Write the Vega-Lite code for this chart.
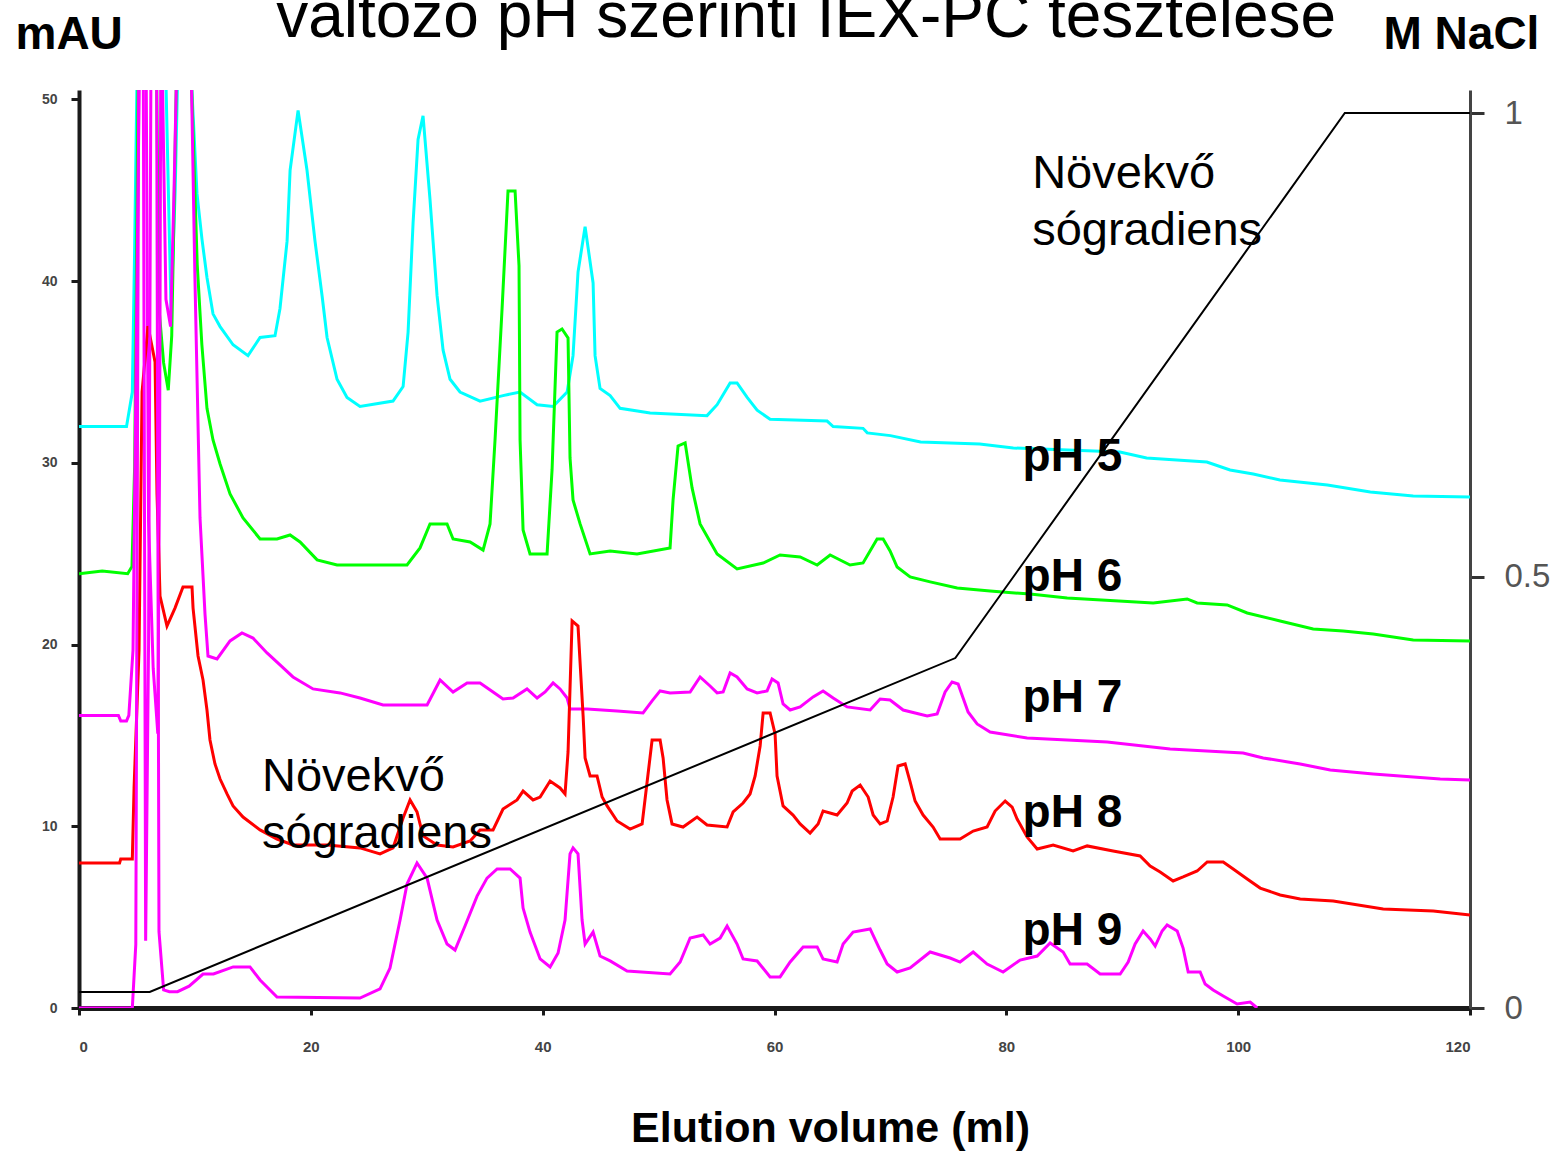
{
  "$schema": "https://vega.github.io/schema/vega-lite/v6.json",
  "autosize": {"type": "none"},
  "width": 1391,
  "height": 918,
  "padding": {"left": 79, "top": 90, "right": 87, "bottom": 143},
  "background": "white",
  "config": {"view": {"stroke": null}, "font": "Liberation Sans"},
  "datasets": {
    "traces": [
      {"ph": "pH 5", "ml": 0, "mAU": 32.0}, {"ph": "pH 5", "ml": 4.1, "mAU": 32.0}, {"ph": "pH 5", "ml": 4.6, "mAU": 33.9}, {"ph": "pH 5", "ml": 4.8, "mAU": 41.8}, {"ph": "pH 5", "ml": 5.0, "mAU": 51}, {"ph": "pH 5", "ml": 7.5, "mAU": 51}, {"ph": "pH 5", "ml": 7.94, "mAU": 38.4}, {"ph": "pH 5", "ml": 8.3, "mAU": 45}, {"ph": "pH 5", "ml": 8.5, "mAU": 51}, {"ph": "pH 5", "ml": 9.7, "mAU": 51}, {"ph": "pH 5", "ml": 10.18, "mAU": 44.8}, {"ph": "pH 5", "ml": 10.61, "mAU": 42.3}, {"ph": "pH 5", "ml": 11.04, "mAU": 40.2}, {"ph": "pH 5", "ml": 11.56, "mAU": 38.2}, {"ph": "pH 5", "ml": 12.17, "mAU": 37.5}, {"ph": "pH 5", "ml": 13.29, "mAU": 36.5}, {"ph": "pH 5", "ml": 14.58, "mAU": 35.9}, {"ph": "pH 5", "ml": 15.62, "mAU": 36.9}, {"ph": "pH 5", "ml": 16.91, "mAU": 37.0}, {"ph": "pH 5", "ml": 17.34, "mAU": 38.5}, {"ph": "pH 5", "ml": 17.95, "mAU": 42.2}, {"ph": "pH 5", "ml": 18.21, "mAU": 46.1}, {"ph": "pH 5", "ml": 18.9, "mAU": 49.4}, {"ph": "pH 5", "ml": 19.67, "mAU": 46.1}, {"ph": "pH 5", "ml": 20.36, "mAU": 42.2}, {"ph": "pH 5", "ml": 20.97, "mAU": 39.2}, {"ph": "pH 5", "ml": 21.4, "mAU": 36.9}, {"ph": "pH 5", "ml": 22.26, "mAU": 34.6}, {"ph": "pH 5", "ml": 23.12, "mAU": 33.6}, {"ph": "pH 5", "ml": 24.24, "mAU": 33.1}, {"ph": "pH 5", "ml": 27.09, "mAU": 33.4}, {"ph": "pH 5", "ml": 27.96, "mAU": 34.2}, {"ph": "pH 5", "ml": 28.39, "mAU": 37.2}, {"ph": "pH 5", "ml": 28.82, "mAU": 43.2}, {"ph": "pH 5", "ml": 29.25, "mAU": 47.8}, {"ph": "pH 5", "ml": 29.68, "mAU": 49.1}, {"ph": "pH 5", "ml": 30.28, "mAU": 44.5}, {"ph": "pH 5", "ml": 30.89, "mAU": 39.2}, {"ph": "pH 5", "ml": 31.41, "mAU": 36.2}, {"ph": "pH 5", "ml": 32.01, "mAU": 34.6}, {"ph": "pH 5", "ml": 32.87, "mAU": 33.9}, {"ph": "pH 5", "ml": 34.6, "mAU": 33.4}, {"ph": "pH 5", "ml": 36.58, "mAU": 33.7}, {"ph": "pH 5", "ml": 38.05, "mAU": 33.9}, {"ph": "pH 5", "ml": 39.52, "mAU": 33.2}, {"ph": "pH 5", "ml": 40.9, "mAU": 33.1}, {"ph": "pH 5", "ml": 42.11, "mAU": 33.9}, {"ph": "pH 5", "ml": 42.62, "mAU": 35.9}, {"ph": "pH 5", "ml": 43.05, "mAU": 40.5}, {"ph": "pH 5", "ml": 43.66, "mAU": 43.0}, {"ph": "pH 5", "ml": 44.35, "mAU": 39.9}, {"ph": "pH 5", "ml": 44.52, "mAU": 35.9}, {"ph": "pH 5", "ml": 44.95, "mAU": 34.1}, {"ph": "pH 5", "ml": 45.82, "mAU": 33.7}, {"ph": "pH 5", "ml": 46.68, "mAU": 33.0}, {"ph": "pH 5", "ml": 49.27, "mAU": 32.75}, {"ph": "pH 5", "ml": 54.18, "mAU": 32.6}, {"ph": "pH 5", "ml": 55.05, "mAU": 33.2}, {"ph": "pH 5", "ml": 56.17, "mAU": 34.4}, {"ph": "pH 5", "ml": 56.77, "mAU": 34.4}, {"ph": "pH 5", "ml": 57.64, "mAU": 33.6}, {"ph": "pH 5", "ml": 58.5, "mAU": 32.9}, {"ph": "pH 5", "ml": 59.62, "mAU": 32.4}, {"ph": "pH 5", "ml": 64.54, "mAU": 32.3}, {"ph": "pH 5", "ml": 65.06, "mAU": 32.0}, {"ph": "pH 5", "ml": 67.64, "mAU": 31.9}, {"ph": "pH 5", "ml": 68.0, "mAU": 31.65}, {"ph": "pH 5", "ml": 70, "mAU": 31.5}, {"ph": "pH 5", "ml": 72.6, "mAU": 31.15}, {"ph": "pH 5", "ml": 77.7, "mAU": 31.04}, {"ph": "pH 5", "ml": 80.6, "mAU": 30.82}, {"ph": "pH 5", "ml": 89.8, "mAU": 30.6}, {"ph": "pH 5", "ml": 92.1, "mAU": 30.27}, {"ph": "pH 5", "ml": 97.3, "mAU": 30.05}, {"ph": "pH 5", "ml": 99.3, "mAU": 29.61}, {"ph": "pH 5", "ml": 101.3, "mAU": 29.39}, {"ph": "pH 5", "ml": 103.6, "mAU": 29.06}, {"ph": "pH 5", "ml": 107.7, "mAU": 28.78}, {"ph": "pH 5", "ml": 111.4, "mAU": 28.4}, {"ph": "pH 5", "ml": 115.1, "mAU": 28.18}, {"ph": "pH 5", "ml": 120, "mAU": 28.12},

      {"ph": "pH 6", "ml": 0, "mAU": 23.9}, {"ph": "pH 6", "ml": 2, "mAU": 24.05}, {"ph": "pH 6", "ml": 4.2, "mAU": 23.9}, {"ph": "pH 6", "ml": 4.57, "mAU": 24.3}, {"ph": "pH 6", "ml": 4.8, "mAU": 29.8}, {"ph": "pH 6", "ml": 5.1, "mAU": 51}, {"ph": "pH 6", "ml": 6.7, "mAU": 51}, {"ph": "pH 6", "ml": 6.9, "mAU": 38.5}, {"ph": "pH 6", "ml": 7.3, "mAU": 35.5}, {"ph": "pH 6", "ml": 7.7, "mAU": 34.0}, {"ph": "pH 6", "ml": 8.0, "mAU": 37.0}, {"ph": "pH 6", "ml": 8.4, "mAU": 51}, {"ph": "pH 6", "ml": 9.7, "mAU": 51}, {"ph": "pH 6", "ml": 10.2, "mAU": 40.9}, {"ph": "pH 6", "ml": 10.6, "mAU": 36.5}, {"ph": "pH 6", "ml": 11.04, "mAU": 33.0}, {"ph": "pH 6", "ml": 11.56, "mAU": 31.26}, {"ph": "pH 6", "ml": 12.17, "mAU": 29.94}, {"ph": "pH 6", "ml": 13.03, "mAU": 28.29}, {"ph": "pH 6", "ml": 14.15, "mAU": 26.97}, {"ph": "pH 6", "ml": 15.62, "mAU": 25.81}, {"ph": "pH 6", "ml": 17.08, "mAU": 25.81}, {"ph": "pH 6", "ml": 18.21, "mAU": 26.03}, {"ph": "pH 6", "ml": 19.07, "mAU": 25.65}, {"ph": "pH 6", "ml": 20.54, "mAU": 24.66}, {"ph": "pH 6", "ml": 22.26, "mAU": 24.38}, {"ph": "pH 6", "ml": 28.3, "mAU": 24.38}, {"ph": "pH 6", "ml": 29.42, "mAU": 25.32}, {"ph": "pH 6", "ml": 30.28, "mAU": 26.64}, {"ph": "pH 6", "ml": 31.75, "mAU": 26.64}, {"ph": "pH 6", "ml": 32.27, "mAU": 25.81}, {"ph": "pH 6", "ml": 33.74, "mAU": 25.65}, {"ph": "pH 6", "ml": 34.86, "mAU": 25.2}, {"ph": "pH 6", "ml": 35.46, "mAU": 26.64}, {"ph": "pH 6", "ml": 35.89, "mAU": 31.26}, {"ph": "pH 6", "ml": 36.5, "mAU": 38.52}, {"ph": "pH 6", "ml": 37.01, "mAU": 44.96}, {"ph": "pH 6", "ml": 37.62, "mAU": 44.96}, {"ph": "pH 6", "ml": 37.96, "mAU": 40.84}, {"ph": "pH 6", "ml": 38.05, "mAU": 31.26}, {"ph": "pH 6", "ml": 38.31, "mAU": 26.31}, {"ph": "pH 6", "ml": 38.91, "mAU": 24.99}, {"ph": "pH 6", "ml": 40.38, "mAU": 24.99}, {"ph": "pH 6", "ml": 40.81, "mAU": 29.61}, {"ph": "pH 6", "ml": 41.24, "mAU": 37.2}, {"ph": "pH 6", "ml": 41.67, "mAU": 37.37}, {"ph": "pH 6", "ml": 42.19, "mAU": 36.87}, {"ph": "pH 6", "ml": 42.36, "mAU": 30.27}, {"ph": "pH 6", "ml": 42.62, "mAU": 27.96}, {"ph": "pH 6", "ml": 43.23, "mAU": 26.64}, {"ph": "pH 6", "ml": 44.09, "mAU": 24.99}, {"ph": "pH 6", "ml": 45.82, "mAU": 25.15}, {"ph": "pH 6", "ml": 48.14, "mAU": 24.99}, {"ph": "pH 6", "ml": 50.99, "mAU": 25.32}, {"ph": "pH 6", "ml": 51.25, "mAU": 27.96}, {"ph": "pH 6", "ml": 51.68, "mAU": 30.93}, {"ph": "pH 6", "ml": 52.29, "mAU": 31.1}, {"ph": "pH 6", "ml": 52.89, "mAU": 28.62}, {"ph": "pH 6", "ml": 53.58, "mAU": 26.64}, {"ph": "pH 6", "ml": 55.05, "mAU": 24.99}, {"ph": "pH 6", "ml": 56.77, "mAU": 24.16}, {"ph": "pH 6", "ml": 59.02, "mAU": 24.49}, {"ph": "pH 6", "ml": 60.48, "mAU": 24.93}, {"ph": "pH 6", "ml": 62.21, "mAU": 24.82}, {"ph": "pH 6", "ml": 63.68, "mAU": 24.38}, {"ph": "pH 6", "ml": 64.8, "mAU": 24.93}, {"ph": "pH 6", "ml": 66.52, "mAU": 24.38}, {"ph": "pH 6", "ml": 67.64, "mAU": 24.49}, {"ph": "pH 6", "ml": 68.85, "mAU": 25.81}, {"ph": "pH 6", "ml": 69.37, "mAU": 25.81}, {"ph": "pH 6", "ml": 69.97, "mAU": 25.15}, {"ph": "pH 6", "ml": 70.58, "mAU": 24.27}, {"ph": "pH 6", "ml": 71.7, "mAU": 23.72}, {"ph": "pH 6", "ml": 73.43, "mAU": 23.45}, {"ph": "pH 6", "ml": 75.76, "mAU": 23.11}, {"ph": "pH 6", "ml": 78.6, "mAU": 22.95}, {"ph": "pH 6", "ml": 82.05, "mAU": 22.78}, {"ph": "pH 6", "ml": 85.25, "mAU": 22.56}, {"ph": "pH 6", "ml": 92.67, "mAU": 22.29}, {"ph": "pH 6", "ml": 95.6, "mAU": 22.51}, {"ph": "pH 6", "ml": 96.46, "mAU": 22.29}, {"ph": "pH 6", "ml": 99.05, "mAU": 22.18}, {"ph": "pH 6", "ml": 100.78, "mAU": 21.74}, {"ph": "pH 6", "ml": 103.62, "mAU": 21.3}, {"ph": "pH 6", "ml": 106.47, "mAU": 20.86}, {"ph": "pH 6", "ml": 109.06, "mAU": 20.75}, {"ph": "pH 6", "ml": 111.65, "mAU": 20.58}, {"ph": "pH 6", "ml": 115.1, "mAU": 20.25}, {"ph": "pH 6", "ml": 120, "mAU": 20.2},

      {"ph": "pH 7", "ml": 0, "mAU": 16.1}, {"ph": "pH 7", "ml": 3.4, "mAU": 16.1}, {"ph": "pH 7", "ml": 3.6, "mAU": 15.8}, {"ph": "pH 7", "ml": 4.1, "mAU": 15.8}, {"ph": "pH 7", "ml": 4.3, "mAU": 16.1}, {"ph": "pH 7", "ml": 4.66, "mAU": 19.7}, {"ph": "pH 7", "ml": 5.0, "mAU": 40}, {"ph": "pH 7", "ml": 5.2, "mAU": 51}, {"ph": "pH 7", "ml": 5.8, "mAU": 51}, {"ph": "pH 7", "ml": 6.0, "mAU": 26.8}, {"ph": "pH 7", "ml": 6.4, "mAU": 18.7}, {"ph": "pH 7", "ml": 6.8, "mAU": 15.1}, {"ph": "pH 7", "ml": 6.95, "mAU": 30}, {"ph": "pH 7", "ml": 7.05, "mAU": 51}, {"ph": "pH 7", "ml": 7.2, "mAU": 51}, {"ph": "pH 7", "ml": 7.5, "mAU": 39}, {"ph": "pH 7", "ml": 7.9, "mAU": 37.5}, {"ph": "pH 7", "ml": 8.2, "mAU": 45}, {"ph": "pH 7", "ml": 8.4, "mAU": 51}, {"ph": "pH 7", "ml": 9.7, "mAU": 51}, {"ph": "pH 7", "ml": 10.0, "mAU": 40.2}, {"ph": "pH 7", "ml": 10.44, "mAU": 26.97}, {"ph": "pH 7", "ml": 10.87, "mAU": 21.68}, {"ph": "pH 7", "ml": 11.13, "mAU": 19.37}, {"ph": "pH 7", "ml": 11.91, "mAU": 19.21}, {"ph": "pH 7", "ml": 13.03, "mAU": 20.2}, {"ph": "pH 7", "ml": 14.06, "mAU": 20.64}, {"ph": "pH 7", "ml": 15.01, "mAU": 20.36}, {"ph": "pH 7", "ml": 16.22, "mAU": 19.54}, {"ph": "pH 7", "ml": 17.34, "mAU": 18.88}, {"ph": "pH 7", "ml": 18.46, "mAU": 18.22}, {"ph": "pH 7", "ml": 20.19, "mAU": 17.56}, {"ph": "pH 7", "ml": 22.52, "mAU": 17.34}, {"ph": "pH 7", "ml": 24.24, "mAU": 17.06}, {"ph": "pH 7", "ml": 26.23, "mAU": 16.68}, {"ph": "pH 7", "ml": 30.03, "mAU": 16.68}, {"ph": "pH 7", "ml": 31.15, "mAU": 18.05}, {"ph": "pH 7", "ml": 32.27, "mAU": 17.39}, {"ph": "pH 7", "ml": 33.48, "mAU": 17.89}, {"ph": "pH 7", "ml": 34.6, "mAU": 17.89}, {"ph": "pH 7", "ml": 35.72, "mAU": 17.39}, {"ph": "pH 7", "ml": 36.58, "mAU": 17.01}, {"ph": "pH 7", "ml": 37.45, "mAU": 17.06}, {"ph": "pH 7", "ml": 38.65, "mAU": 17.56}, {"ph": "pH 7", "ml": 39.52, "mAU": 17.06}, {"ph": "pH 7", "ml": 40.21, "mAU": 17.39}, {"ph": "pH 7", "ml": 40.9, "mAU": 17.89}, {"ph": "pH 7", "ml": 41.5, "mAU": 17.56}, {"ph": "pH 7", "ml": 42.11, "mAU": 17.06}, {"ph": "pH 7", "ml": 42.36, "mAU": 16.46}, {"ph": "pH 7", "ml": 43.83, "mAU": 16.46}, {"ph": "pH 7", "ml": 46.42, "mAU": 16.35}, {"ph": "pH 7", "ml": 48.66, "mAU": 16.24}, {"ph": "pH 7", "ml": 49.44, "mAU": 16.9}, {"ph": "pH 7", "ml": 50.13, "mAU": 17.45}, {"ph": "pH 7", "ml": 50.99, "mAU": 17.34}, {"ph": "pH 7", "ml": 52.72, "mAU": 17.39}, {"ph": "pH 7", "ml": 53.58, "mAU": 18.22}, {"ph": "pH 7", "ml": 54.44, "mAU": 17.72}, {"ph": "pH 7", "ml": 55.05, "mAU": 17.34}, {"ph": "pH 7", "ml": 55.57, "mAU": 17.39}, {"ph": "pH 7", "ml": 56.17, "mAU": 18.44}, {"ph": "pH 7", "ml": 56.77, "mAU": 18.22}, {"ph": "pH 7", "ml": 57.64, "mAU": 17.56}, {"ph": "pH 7", "ml": 58.5, "mAU": 17.34}, {"ph": "pH 7", "ml": 59.36, "mAU": 17.45}, {"ph": "pH 7", "ml": 59.79, "mAU": 18.11}, {"ph": "pH 7", "ml": 60.31, "mAU": 17.89}, {"ph": "pH 7", "ml": 60.74, "mAU": 16.73}, {"ph": "pH 7", "ml": 61.35, "mAU": 16.4}, {"ph": "pH 7", "ml": 62.21, "mAU": 16.57}, {"ph": "pH 7", "ml": 63.33, "mAU": 17.12}, {"ph": "pH 7", "ml": 64.19, "mAU": 17.45}, {"ph": "pH 7", "ml": 65.06, "mAU": 17.06}, {"ph": "pH 7", "ml": 66.26, "mAU": 16.57}, {"ph": "pH 7", "ml": 68.25, "mAU": 16.4}, {"ph": "pH 7", "ml": 69.11, "mAU": 17.0}, {"ph": "pH 7", "ml": 69.97, "mAU": 16.95}, {"ph": "pH 7", "ml": 71.1, "mAU": 16.4}, {"ph": "pH 7", "ml": 73.17, "mAU": 16.07}, {"ph": "pH 7", "ml": 74.03, "mAU": 16.18}, {"ph": "pH 7", "ml": 74.72, "mAU": 17.39}, {"ph": "pH 7", "ml": 75.32, "mAU": 17.94}, {"ph": "pH 7", "ml": 75.84, "mAU": 17.83}, {"ph": "pH 7", "ml": 76.27, "mAU": 17.06}, {"ph": "pH 7", "ml": 76.7, "mAU": 16.29}, {"ph": "pH 7", "ml": 77.48, "mAU": 15.63}, {"ph": "pH 7", "ml": 78.6, "mAU": 15.19}, {"ph": "pH 7", "ml": 81.79, "mAU": 14.86}, {"ph": "pH 7", "ml": 88.7, "mAU": 14.64}, {"ph": "pH 7", "ml": 94.13, "mAU": 14.25}, {"ph": "pH 7", "ml": 100.43, "mAU": 14.03}, {"ph": "pH 7", "ml": 102.16, "mAU": 13.76}, {"ph": "pH 7", "ml": 105.35, "mAU": 13.43}, {"ph": "pH 7", "ml": 107.94, "mAU": 13.1}, {"ph": "pH 7", "ml": 111.65, "mAU": 12.88}, {"ph": "pH 7", "ml": 117.43, "mAU": 12.6}, {"ph": "pH 7", "ml": 120, "mAU": 12.55},

      {"ph": "pH 8", "ml": 0, "mAU": 7.98}, {"ph": "pH 8", "ml": 3.5, "mAU": 7.98}, {"ph": "pH 8", "ml": 3.6, "mAU": 8.2}, {"ph": "pH 8", "ml": 4.6, "mAU": 8.2}, {"ph": "pH 8", "ml": 4.75, "mAU": 12.1}, {"ph": "pH 8", "ml": 5.18, "mAU": 19.7}, {"ph": "pH 8", "ml": 5.44, "mAU": 33.9}, {"ph": "pH 8", "ml": 5.95, "mAU": 37.53}, {"ph": "pH 8", "ml": 6.56, "mAU": 35.55}, {"ph": "pH 8", "ml": 6.73, "mAU": 28.29}, {"ph": "pH 8", "ml": 6.99, "mAU": 22.67}, {"ph": "pH 8", "ml": 7.59, "mAU": 21.02}, {"ph": "pH 8", "ml": 8.28, "mAU": 22.01}, {"ph": "pH 8", "ml": 8.97, "mAU": 23.17}, {"ph": "pH 8", "ml": 9.75, "mAU": 23.17}, {"ph": "pH 8", "ml": 9.84, "mAU": 22.01}, {"ph": "pH 8", "ml": 10.27, "mAU": 19.37}, {"ph": "pH 8", "ml": 10.7, "mAU": 18.05}, {"ph": "pH 8", "ml": 11.04, "mAU": 16.4}, {"ph": "pH 8", "ml": 11.3, "mAU": 14.75}, {"ph": "pH 8", "ml": 11.73, "mAU": 13.43}, {"ph": "pH 8", "ml": 12.17, "mAU": 12.6}, {"ph": "pH 8", "ml": 12.77, "mAU": 11.78}, {"ph": "pH 8", "ml": 13.29, "mAU": 11.12}, {"ph": "pH 8", "ml": 14.15, "mAU": 10.51}, {"ph": "pH 8", "ml": 15.62, "mAU": 9.8}, {"ph": "pH 8", "ml": 17.08, "mAU": 9.3}, {"ph": "pH 8", "ml": 18.46, "mAU": 8.97}, {"ph": "pH 8", "ml": 21.4, "mAU": 8.97}, {"ph": "pH 8", "ml": 24.24, "mAU": 8.81}, {"ph": "pH 8", "ml": 25.97, "mAU": 8.48}, {"ph": "pH 8", "ml": 27.09, "mAU": 8.81}, {"ph": "pH 8", "ml": 27.96, "mAU": 10.46}, {"ph": "pH 8", "ml": 28.56, "mAU": 11.45}, {"ph": "pH 8", "ml": 29.16, "mAU": 10.79}, {"ph": "pH 8", "ml": 29.68, "mAU": 9.47}, {"ph": "pH 8", "ml": 30.89, "mAU": 8.97}, {"ph": "pH 8", "ml": 32.27, "mAU": 8.86}, {"ph": "pH 8", "ml": 33.74, "mAU": 9.19}, {"ph": "pH 8", "ml": 34.6, "mAU": 9.8}, {"ph": "pH 8", "ml": 35.72, "mAU": 9.8}, {"ph": "pH 8", "ml": 36.58, "mAU": 10.95}, {"ph": "pH 8", "ml": 37.79, "mAU": 11.45}, {"ph": "pH 8", "ml": 38.31, "mAU": 11.94}, {"ph": "pH 8", "ml": 39.17, "mAU": 11.45}, {"ph": "pH 8", "ml": 39.78, "mAU": 11.61}, {"ph": "pH 8", "ml": 40.64, "mAU": 12.49}, {"ph": "pH 8", "ml": 41.5, "mAU": 12.11}, {"ph": "pH 8", "ml": 41.93, "mAU": 11.78}, {"ph": "pH 8", "ml": 42.19, "mAU": 14.09}, {"ph": "pH 8", "ml": 42.54, "mAU": 21.3}, {"ph": "pH 8", "ml": 43.05, "mAU": 21.02}, {"ph": "pH 8", "ml": 43.49, "mAU": 16.07}, {"ph": "pH 8", "ml": 43.66, "mAU": 13.76}, {"ph": "pH 8", "ml": 44.09, "mAU": 12.77}, {"ph": "pH 8", "ml": 44.69, "mAU": 12.77}, {"ph": "pH 8", "ml": 45.13, "mAU": 11.61}, {"ph": "pH 8", "ml": 45.56, "mAU": 11.12}, {"ph": "pH 8", "ml": 46.42, "mAU": 10.29}, {"ph": "pH 8", "ml": 47.54, "mAU": 9.85}, {"ph": "pH 8", "ml": 48.58, "mAU": 10.13}, {"ph": "pH 8", "ml": 49.01, "mAU": 12.44}, {"ph": "pH 8", "ml": 49.44, "mAU": 14.75}, {"ph": "pH 8", "ml": 50.13, "mAU": 14.75}, {"ph": "pH 8", "ml": 50.39, "mAU": 13.76}, {"ph": "pH 8", "ml": 50.73, "mAU": 11.45}, {"ph": "pH 8", "ml": 51.16, "mAU": 10.13}, {"ph": "pH 8", "ml": 52.11, "mAU": 9.96}, {"ph": "pH 8", "ml": 53.32, "mAU": 10.51}, {"ph": "pH 8", "ml": 54.18, "mAU": 10.07}, {"ph": "pH 8", "ml": 55.91, "mAU": 9.96}, {"ph": "pH 8", "ml": 56.43, "mAU": 10.79}, {"ph": "pH 8", "ml": 57.29, "mAU": 11.28}, {"ph": "pH 8", "ml": 57.89, "mAU": 11.78}, {"ph": "pH 8", "ml": 58.33, "mAU": 12.77}, {"ph": "pH 8", "ml": 58.76, "mAU": 14.42}, {"ph": "pH 8", "ml": 59.02, "mAU": 16.24}, {"ph": "pH 8", "ml": 59.62, "mAU": 16.24}, {"ph": "pH 8", "ml": 60.05, "mAU": 15.08}, {"ph": "pH 8", "ml": 60.22, "mAU": 12.77}, {"ph": "pH 8", "ml": 60.74, "mAU": 11.12}, {"ph": "pH 8", "ml": 61.6, "mAU": 10.62}, {"ph": "pH 8", "ml": 62.21, "mAU": 10.13}, {"ph": "pH 8", "ml": 63.07, "mAU": 9.63}, {"ph": "pH 8", "ml": 63.76, "mAU": 10.13}, {"ph": "pH 8", "ml": 64.19, "mAU": 10.84}, {"ph": "pH 8", "ml": 65.4, "mAU": 10.62}, {"ph": "pH 8", "ml": 66.26, "mAU": 11.28}, {"ph": "pH 8", "ml": 66.7, "mAU": 11.94}, {"ph": "pH 8", "ml": 67.39, "mAU": 12.27}, {"ph": "pH 8", "ml": 68.08, "mAU": 11.61}, {"ph": "pH 8", "ml": 68.51, "mAU": 10.62}, {"ph": "pH 8", "ml": 69.11, "mAU": 10.13}, {"ph": "pH 8", "ml": 69.72, "mAU": 10.29}, {"ph": "pH 8", "ml": 70.23, "mAU": 11.61}, {"ph": "pH 8", "ml": 70.66, "mAU": 13.32}, {"ph": "pH 8", "ml": 71.27, "mAU": 13.43}, {"ph": "pH 8", "ml": 71.7, "mAU": 12.44}, {"ph": "pH 8", "ml": 72.13, "mAU": 11.39}, {"ph": "pH 8", "ml": 72.82, "mAU": 10.62}, {"ph": "pH 8", "ml": 73.68, "mAU": 9.96}, {"ph": "pH 8", "ml": 74.29, "mAU": 9.3}, {"ph": "pH 8", "ml": 76.01, "mAU": 9.3}, {"ph": "pH 8", "ml": 77.14, "mAU": 9.74}, {"ph": "pH 8", "ml": 78.34, "mAU": 9.96}, {"ph": "pH 8", "ml": 79.03, "mAU": 10.84}, {"ph": "pH 8", "ml": 79.9, "mAU": 11.39}, {"ph": "pH 8", "ml": 80.5, "mAU": 11.06}, {"ph": "pH 8", "ml": 80.93, "mAU": 10.4}, {"ph": "pH 8", "ml": 81.79, "mAU": 9.41}, {"ph": "pH 8", "ml": 82.66, "mAU": 8.75}, {"ph": "pH 8", "ml": 84.04, "mAU": 8.97}, {"ph": "pH 8", "ml": 85.76, "mAU": 8.64}, {"ph": "pH 8", "ml": 86.97, "mAU": 8.92}, {"ph": "pH 8", "ml": 89.21, "mAU": 8.64}, {"ph": "pH 8", "ml": 91.54, "mAU": 8.37}, {"ph": "pH 8", "ml": 92.41, "mAU": 7.81}, {"ph": "pH 8", "ml": 93.27, "mAU": 7.48}, {"ph": "pH 8", "ml": 94.39, "mAU": 6.99}, {"ph": "pH 8", "ml": 95.25, "mAU": 7.21}, {"ph": "pH 8", "ml": 96.46, "mAU": 7.54}, {"ph": "pH 8", "ml": 97.33, "mAU": 8.04}, {"ph": "pH 8", "ml": 98.71, "mAU": 8.04}, {"ph": "pH 8", "ml": 99.57, "mAU": 7.65}, {"ph": "pH 8", "ml": 100.78, "mAU": 7.1}, {"ph": "pH 8", "ml": 101.9, "mAU": 6.6}, {"ph": "pH 8", "ml": 103.62, "mAU": 6.22}, {"ph": "pH 8", "ml": 105.35, "mAU": 6.0}, {"ph": "pH 8", "ml": 108.2, "mAU": 5.89}, {"ph": "pH 8", "ml": 112.51, "mAU": 5.45}, {"ph": "pH 8", "ml": 116.83, "mAU": 5.34}, {"ph": "pH 8", "ml": 120, "mAU": 5.12},

      {"ph": "pH 9", "ml": 0, "mAU": 0}, {"ph": "pH 9", "ml": 4.6, "mAU": 0}, {"ph": "pH 9", "ml": 4.9, "mAU": 3.5}, {"ph": "pH 9", "ml": 5.15, "mAU": 51}, {"ph": "pH 9", "ml": 5.55, "mAU": 51}, {"ph": "pH 9", "ml": 5.75, "mAU": 3.7}, {"ph": "pH 9", "ml": 6.0, "mAU": 20}, {"ph": "pH 9", "ml": 6.2, "mAU": 51}, {"ph": "pH 9", "ml": 6.7, "mAU": 51}, {"ph": "pH 9", "ml": 6.9, "mAU": 4.2}, {"ph": "pH 9", "ml": 7.3, "mAU": 1.0}, {"ph": "pH 9", "ml": 7.8, "mAU": 0.9}, {"ph": "pH 9", "ml": 8.5, "mAU": 0.9}, {"ph": "pH 9", "ml": 9.5, "mAU": 1.2}, {"ph": "pH 9", "ml": 10.7, "mAU": 1.87}, {"ph": "pH 9", "ml": 11.6, "mAU": 1.87}, {"ph": "pH 9", "ml": 13.3, "mAU": 2.26}, {"ph": "pH 9", "ml": 14.75, "mAU": 2.26}, {"ph": "pH 9", "ml": 15.62, "mAU": 1.54}, {"ph": "pH 9", "ml": 17.08, "mAU": 0.6}, {"ph": "pH 9", "ml": 24.24, "mAU": 0.55}, {"ph": "pH 9", "ml": 25.97, "mAU": 1.05}, {"ph": "pH 9", "ml": 26.83, "mAU": 2.2}, {"ph": "pH 9", "ml": 27.7, "mAU": 4.84}, {"ph": "pH 9", "ml": 28.3, "mAU": 6.82}, {"ph": "pH 9", "ml": 29.16, "mAU": 7.98}, {"ph": "pH 9", "ml": 30.03, "mAU": 7.15}, {"ph": "pH 9", "ml": 30.89, "mAU": 4.84}, {"ph": "pH 9", "ml": 31.75, "mAU": 3.52}, {"ph": "pH 9", "ml": 32.44, "mAU": 3.19}, {"ph": "pH 9", "ml": 33.3, "mAU": 4.51}, {"ph": "pH 9", "ml": 34.34, "mAU": 6.16}, {"ph": "pH 9", "ml": 35.2, "mAU": 7.15}, {"ph": "pH 9", "ml": 36.07, "mAU": 7.65}, {"ph": "pH 9", "ml": 37.19, "mAU": 7.65}, {"ph": "pH 9", "ml": 38.05, "mAU": 7.15}, {"ph": "pH 9", "ml": 38.31, "mAU": 5.5}, {"ph": "pH 9", "ml": 38.91, "mAU": 4.18}, {"ph": "pH 9", "ml": 39.78, "mAU": 2.7}, {"ph": "pH 9", "ml": 40.64, "mAU": 2.26}, {"ph": "pH 9", "ml": 41.33, "mAU": 3.03}, {"ph": "pH 9", "ml": 41.93, "mAU": 4.84}, {"ph": "pH 9", "ml": 42.36, "mAU": 8.48}, {"ph": "pH 9", "ml": 42.62, "mAU": 8.81}, {"ph": "pH 9", "ml": 43.05, "mAU": 8.48}, {"ph": "pH 9", "ml": 43.4, "mAU": 4.84}, {"ph": "pH 9", "ml": 43.66, "mAU": 3.52}, {"ph": "pH 9", "ml": 44.35, "mAU": 4.18}, {"ph": "pH 9", "ml": 44.95, "mAU": 2.86}, {"ph": "pH 9", "ml": 45.82, "mAU": 2.59}, {"ph": "pH 9", "ml": 47.28, "mAU": 2.04}, {"ph": "pH 9", "ml": 50.99, "mAU": 1.87}, {"ph": "pH 9", "ml": 51.86, "mAU": 2.53}, {"ph": "pH 9", "ml": 52.72, "mAU": 3.85}, {"ph": "pH 9", "ml": 53.84, "mAU": 4.02}, {"ph": "pH 9", "ml": 54.44, "mAU": 3.52}, {"ph": "pH 9", "ml": 55.31, "mAU": 3.85}, {"ph": "pH 9", "ml": 55.91, "mAU": 4.51}, {"ph": "pH 9", "ml": 56.77, "mAU": 3.52}, {"ph": "pH 9", "ml": 57.29, "mAU": 2.7}, {"ph": "pH 9", "ml": 58.5, "mAU": 2.59}, {"ph": "pH 9", "ml": 59.62, "mAU": 1.71}, {"ph": "pH 9", "ml": 60.48, "mAU": 1.71}, {"ph": "pH 9", "ml": 61.35, "mAU": 2.53}, {"ph": "pH 9", "ml": 62.47, "mAU": 3.36}, {"ph": "pH 9", "ml": 63.68, "mAU": 3.36}, {"ph": "pH 9", "ml": 64.19, "mAU": 2.7}, {"ph": "pH 9", "ml": 65.4, "mAU": 2.53}, {"ph": "pH 9", "ml": 65.92, "mAU": 3.52}, {"ph": "pH 9", "ml": 66.78, "mAU": 4.18}, {"ph": "pH 9", "ml": 68.25, "mAU": 4.35}, {"ph": "pH 9", "ml": 69.11, "mAU": 3.19}, {"ph": "pH 9", "ml": 69.72, "mAU": 2.42}, {"ph": "pH 9", "ml": 70.58, "mAU": 1.98}, {"ph": "pH 9", "ml": 71.7, "mAU": 2.2}, {"ph": "pH 9", "ml": 73.43, "mAU": 3.08}, {"ph": "pH 9", "ml": 75.15, "mAU": 2.75}, {"ph": "pH 9", "ml": 76.01, "mAU": 2.53}, {"ph": "pH 9", "ml": 77.14, "mAU": 3.08}, {"ph": "pH 9", "ml": 78.34, "mAU": 2.42}, {"ph": "pH 9", "ml": 79.72, "mAU": 1.98}, {"ph": "pH 9", "ml": 81.19, "mAU": 2.64}, {"ph": "pH 9", "ml": 82.66, "mAU": 2.86}, {"ph": "pH 9", "ml": 83.78, "mAU": 3.58}, {"ph": "pH 9", "ml": 84.9, "mAU": 3.08}, {"ph": "pH 9", "ml": 85.5, "mAU": 2.42}, {"ph": "pH 9", "ml": 86.97, "mAU": 2.42}, {"ph": "pH 9", "ml": 88.09, "mAU": 1.87}, {"ph": "pH 9", "ml": 89.82, "mAU": 1.87}, {"ph": "pH 9", "ml": 90.51, "mAU": 2.53}, {"ph": "pH 9", "ml": 91.11, "mAU": 3.52}, {"ph": "pH 9", "ml": 91.8, "mAU": 4.24}, {"ph": "pH 9", "ml": 92.41, "mAU": 3.8}, {"ph": "pH 9", "ml": 92.84, "mAU": 3.41}, {"ph": "pH 9", "ml": 93.44, "mAU": 4.24}, {"ph": "pH 9", "ml": 93.87, "mAU": 4.57}, {"ph": "pH 9", "ml": 94.74, "mAU": 4.24}, {"ph": "pH 9", "ml": 95.25, "mAU": 3.3}, {"ph": "pH 9", "ml": 95.69, "mAU": 1.98}, {"ph": "pH 9", "ml": 96.72, "mAU": 1.98}, {"ph": "pH 9", "ml": 97.15, "mAU": 1.32}, {"ph": "pH 9", "ml": 97.84, "mAU": 0.99}, {"ph": "pH 9", "ml": 98.71, "mAU": 0.66}, {"ph": "pH 9", "ml": 99.91, "mAU": 0.22}, {"ph": "pH 9", "ml": 101.04, "mAU": 0.33}, {"ph": "pH 9", "ml": 101.64, "mAU": 0}
    ],
    "gradient": [
      {"ml": 0, "M": 0.018}, {"ml": 6.1, "M": 0.018}, {"ml": 75.6, "M": 0.391}, {"ml": 109.2, "M": 1.0}, {"ml": 120, "M": 1.0}
    ],
    "phlabels": [
      {"ml": 81.4, "mAU": 29.53, "label": "pH 5"},
      {"ml": 81.4, "mAU": 22.96, "label": "pH 6"},
      {"ml": 81.4, "mAU": 16.29, "label": "pH 7"},
      {"ml": 81.4, "mAU": 9.96, "label": "pH 8"},
      {"ml": 81.4, "mAU": 3.49, "label": "pH 9"}
    ],
    "notes": [
      {"ml": 82.23, "mAU": 45.13, "label": "Növekvő"},
      {"ml": 82.23, "mAU": 41.99, "label": "sógradiens"},
      {"ml": 15.79, "mAU": 11.94, "label": "Növekvő"},
      {"ml": 15.79, "mAU": 8.81, "label": "sógradiens"}
    ],
    "heading": [
      {"ml": 62.73, "mAU": 53.44, "label": "változó pH szerinti IEX-PC tesztelése"}
    ]
  },
  "encoding": {
    "x": {
      "field": "ml",
      "type": "quantitative",
      "title": "Elution volume (ml)",
      "scale": {"domain": [0, 120], "nice": false},
      "axis": {
        "values": [0, 20, 40, 60, 80, 100, 120],
        "grid": false,
        "domainColor": "#1a1a1a",
        "domainWidth": 5,
        "tickColor": "#1a1a1a",
        "tickWidth": 3,
        "tickSize": 7,
        "labelFontSize": 15,
        "labelFontWeight": "bold",
        "labelColor": "#444444",
        "labelPadding": 24,
        "titleFontSize": 43,
        "titleFontWeight": "bold",
        "titleColor": "#000000",
        "titleAlign": "center",
        "titleBaseline": "alphabetic",
        "titleX": 751,
        "titleY": 133
      }
    }
  },
  "layer": [
    {
      "data": {"name": "traces"},
      "mark": {"type": "line", "clip": true, "strokeWidth": 3},
      "encoding": {
        "y": {
          "field": "mAU",
          "type": "quantitative",
          "title": "mAU",
          "scale": {"domain": [0, 50.52], "nice": false, "zero": false},
          "axis": {
            "values": [0, 10, 20, 30, 40, 50],
            "grid": false,
            "domainColor": "#1a1a1a",
            "domainWidth": 4,
            "tickColor": "#1a1a1a",
            "tickWidth": 3,
            "tickSize": 8,
            "labelFontSize": 14,
            "labelFontWeight": "bold",
            "labelColor": "#444444",
            "labelPadding": 14,
            "titleFontSize": 46,
            "titleFontWeight": "bold",
            "titleColor": "#000000",
            "titleAngle": 0,
            "titleAlign": "left",
            "titleBaseline": "alphabetic",
            "titleX": -64,
            "titleY": -42
          }
        },
        "color": {
          "field": "ph",
          "type": "nominal",
          "scale": {
            "domain": ["pH 5", "pH 6", "pH 7", "pH 8", "pH 9"],
            "range": ["#00ffff", "#00ff00", "#ff00ff", "#ff0000", "#ff00ff"]
          },
          "legend": null
        }
      }
    },
    {
      "data": {"name": "gradient"},
      "mark": {"type": "line", "color": "#000000", "strokeWidth": 2},
      "encoding": {
        "y": {
          "field": "M",
          "type": "quantitative",
          "title": "M NaCl",
          "scale": {"domain": [0, 1.0257], "nice": false},
          "axis": {
            "orient": "right",
            "values": [0, 0.4816, 1],
            "labelExpr": "datum.value > 0.9 ? '1' : datum.value > 0.1 ? '0.5' : '0'",
            "grid": false,
            "domainColor": "#444444",
            "domainWidth": 3,
            "tickColor": "#333333",
            "tickWidth": 3,
            "tickSize": 14,
            "labelFontSize": 33,
            "labelColor": "#555555",
            "labelPadding": 20,
            "titleFontSize": 46,
            "titleFontWeight": "bold",
            "titleColor": "#000000",
            "titleAngle": 0,
            "titleAlign": "left",
            "titleBaseline": "alphabetic",
            "titleX": -87,
            "titleY": -42
          }
        }
      }
    },
    {
      "data": {"name": "phlabels"},
      "mark": {"type": "text", "align": "left", "baseline": "alphabetic", "fontSize": 46, "fontWeight": "bold", "color": "#000000"},
      "encoding": {
        "y": {"field": "mAU", "type": "quantitative", "scale": {"domain": [0, 50.52], "nice": false}, "axis": null},
        "text": {"field": "label"}
      }
    },
    {
      "data": {"name": "notes"},
      "mark": {"type": "text", "align": "left", "baseline": "alphabetic", "fontSize": 47, "color": "#000000"},
      "encoding": {
        "y": {"field": "mAU", "type": "quantitative", "scale": {"domain": [0, 50.52], "nice": false}, "axis": null},
        "text": {"field": "label"}
      }
    },
    {
      "data": {"name": "heading"},
      "mark": {"type": "text", "align": "center", "baseline": "alphabetic", "fontSize": 64, "color": "#000000"},
      "encoding": {
        "y": {"field": "mAU", "type": "quantitative", "scale": {"domain": [0, 50.52], "nice": false}, "axis": null},
        "text": {"field": "label"}
      }
    }
  ],
  "resolve": {"scale": {"y": "independent"}}
}
